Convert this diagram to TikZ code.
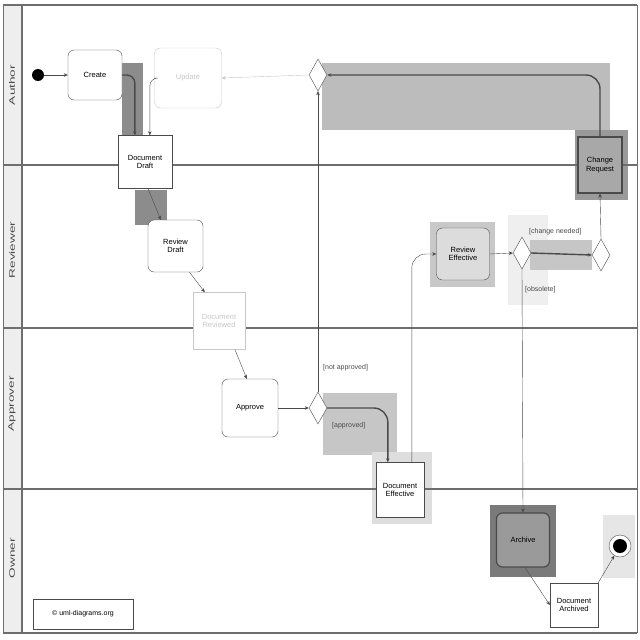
\documentclass[tikz,border=0pt]{standalone}
\usepackage{fontspec}
\setmainfont{Liberation Sans}
\usetikzlibrary{shapes.geometric,arrows.meta,calc}

\definecolor{lanegray}{HTML}{6E6E6E}
\definecolor{ink}{HTML}{4A4A4A}
\definecolor{faint}{HTML}{C8C8C8}
\definecolor{shadeA}{HTML}{BCBCBC}
\definecolor{shadeB}{HTML}{8C8C8C}
\definecolor{shadeC}{HTML}{C8C8C8}
\definecolor{shadeD}{HTML}{EFEFEF}
\definecolor{shadeE}{HTML}{C6C6C6}
\definecolor{shadeF}{HTML}{DEDEDE}
\definecolor{shadeG}{HTML}{9A9A9A}
\definecolor{shadeH}{HTML}{7A7A7A}
\definecolor{shadeI}{HTML}{E6E6E6}
\definecolor{labelcol}{HTML}{EEEEEE}
\definecolor{fillReview}{HTML}{DCDCDC}
\definecolor{fillChange}{HTML}{A8A8A8}
\definecolor{fillArchive}{HTML}{9A9A9A}

\tikzset{
  action/.style={draw=ink, rounded corners=6pt, fill=white, align=center,
    minimum width=#1, inner sep=1pt},
  objbox/.style={draw=ink, fill=white, align=center, inner sep=1pt},
  ghost/.style={draw=faint, text=faint},
  choice/.style={draw=ink, fill=white, diamond, inner sep=0pt, aspect=0.56,
    minimum width=18pt, minimum height=32pt},
  flow/.style={draw=ink, -{Stealth[length=4pt,width=3.5pt]}},
  heavy/.style={flow, line width=1.4pt},
  guard/.style={font=\fontsize{7}{8}\selectfont, text=ink, inner sep=1pt},
  lanelabel/.style={rotate=90, xscale=1.7, text=ink, font=\fontsize{8}{9}\selectfont},
  laneline/.style={draw=lanegray, line width=2.5pt},
}

\begin{document}
\begin{tikzpicture}[x=1pt, y=-1pt, font=\fontsize{7.5}{8.5}\selectfont]
\useasboundingbox (0,0) rectangle (640,640);
\fill[white] (0,0) rectangle (640,640);

% shaded emphasis areas
\fill[shadeA] (322,63) rectangle (610,130);
\fill[shadeB] (122,63) rectangle (143,135);
\fill[shadeB] (135,190) rectangle (167,225);
\fill[shadeC] (430,222) rectangle (495,287);
\fill[shadeD] (508,215) rectangle (548,305);
\fill[shadeE] (530,240) rectangle (592,270);
\fill[shadeE] (323,393) rectangle (397,455);
\fill[shadeF] (372,452) rectangle (432,524);
\fill[shadeG] (575,130) rectangle (628,200);
\fill[shadeH] (490,505) rectangle (556,577);
\fill[shadeI] (603,515) rectangle (635,578);

% swimlanes
\fill[labelcol] (3,5) rectangle (22,633);
\draw[draw=lanegray, line width=1pt] (3,5) -- (3,633);
\draw[draw=lanegray, line width=1.5pt] (22,5) -- (22,633);
\draw[draw=lanegray, line width=1pt] (637,5) -- (637,633);
\draw[laneline] (3,5) -- (637,5);
\draw[laneline] (3,165) -- (637,165);
\draw[laneline] (3,328) -- (637,328);
\draw[laneline] (3,489) -- (637,489);
\draw[laneline] (3,633) -- (637,633);
\node[lanelabel] (laneA) at (12,85) {Author};
\node[lanelabel] (laneR) at (12,250) {Reviewer};
\node[lanelabel] (laneP) at (12,404) {Approver};
\node[lanelabel] (laneO) at (12,558) {Owner};

% nodes
\node[circle, fill=black, minimum size=12pt, inner sep=0pt] (start) at (38,75) {};
\node[action=54pt, minimum height=50pt] (create) at (95,75) {Create};
\node[action=67pt, minimum height=60pt, ghost] (update) at (188,78) {Update};
\node[objbox, minimum width=54pt, minimum height=53pt] (draft) at (145,162) {Document\\Draft};
\node[action=55pt, minimum height=52pt] (reviewdraft) at (175.5,246) {Review\\Draft};
\node[objbox, ghost, minimum width=52pt, minimum height=57pt] (reviewed) at (219,321) {Document\\Reviewed};
\node[action=56pt, minimum height=58pt] (approve) at (250,408) {Approve};
\node[choice] (decide) at (318,408) {};
\node[choice] (merge) at (318,75) {};
\node[objbox, minimum width=48pt, minimum height=55pt] (doceff) at (400,490) {Document\\Effective};
\node[action=53pt, minimum height=52pt, fill=fillReview] (reveff) at (463,254) {Review\\Effective};
\node[choice] (decide2) at (522,253) {};
\node[choice] (merge2) at (601,255) {};
\node[objbox, line width=1.2pt, fill=fillChange, minimum width=44pt, minimum height=56pt] (change) at (600,165) {Change\\Request};
\node[action=53pt, minimum height=54pt, line width=1.2pt, fill=fillArchive] (archive) at (523,540) {Archive};
\node[objbox, minimum width=48pt, minimum height=44pt] (docarch) at (574,605) {Document\\Archived};
\node[circle, draw=ink, fill=white, minimum size=22pt, inner sep=0pt] (finish) at (620,546) {};
\fill[black] (finish.center) circle (7pt);
\node[draw=ink, minimum width=100pt, minimum height=30pt, font=\fontsize{7}{8}\selectfont] (copy) at (83,614) {\textcopyright{} uml-diagrams.org};

% guards
\node[guard, anchor=west] (gna) at (322,368) {[not approved]};
\node[guard, anchor=west] (gap) at (331,426) {[approved]};
\node[guard, anchor=west] (gcn) at (528,232) {[change needed]};
\node[guard, anchor=west] (gob) at (524,290) {[obsolete]};

% control flows
\draw[flow] (start) -- (create);
\draw[heavy, rounded corners=8pt] (create.east) -| ($(draft.north west)+(17,0)$);
\draw[flow, rounded corners=8pt] (update.west) -| ($(draft.north west)+(32,0)$);
\draw[flow, draw=faint] (merge.west) -- (update.east);
\draw[flow] ($(draft.south)+(3,0)$) -- ($(reviewdraft.north west)+(13,0)$);
\draw[flow] ($(reviewdraft.south)+(14,0)$) -- ($(reviewed.north west)+(12,0)$);
\draw[flow] ($(reviewed.south)+(16,0)$) -- ($(approve.north west)+(25,0)$);
\draw[flow] (approve) -- (decide);
\draw[flow] (decide.north) -- (merge.south);
\draw[heavy, rounded corners=14pt] (decide.east) -| ($(doceff.north west)+(12,0)$);
\draw[flow, rounded corners=14pt] ($(doceff.north west)+(36,0)$) |- (reveff.west);
\draw[flow] (reveff.east) -- (decide2.west);
\draw[heavy] (decide2.east) -- (merge2.west);
\draw[flow] (merge2.north) -- (change.south);
\draw[heavy, rounded corners=14pt] (change.north) |- (merge.east);
\draw[flow] (decide2.south) -- (archive.north);
\draw[flow] ($(archive.south)+(2,0)$) -- (docarch.west);
\draw[flow] (docarch.north east) -- (finish);
\end{tikzpicture}
\end{document}
